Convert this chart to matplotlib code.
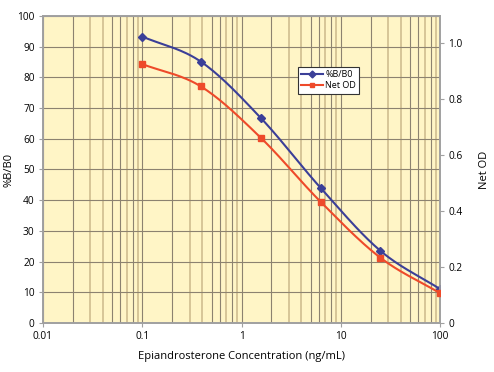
import matplotlib
matplotlib.use("Agg")
import matplotlib.pyplot as plt
from matplotlib.lines import Line2D
import numpy as np

# dilution series (ng/mL) and responses
conc = [0.1, 0.39, 1.56, 6.25, 25.0, 100.0]
pct_b_b0 = [93.3, 85.1, 66.8, 44.0, 23.5, 11.0]
net_od = [0.925, 0.845, 0.662, 0.433, 0.233, 0.106]

left_ticks = [0, 10, 20, 30, 40, 50, 60, 70, 80, 90, 100]
right_ticks = [0, 0.2, 0.4, 0.6, 0.8, 1.0]
right_labels = ["0", "0.2", "0.4", "0.6", "0.8", "1.0"]
x_ticks = [0.01, 0.1, 1, 10, 100]
x_labels = ["0.01", "0.1", "1", "10", "100"]

BLUE = "#3b3f98"
RED = "#ee4a2a"
BG = "#fff5c6"
DARK = "#8c8270"
LIGHT = "#d6c597"
SPINE = "#a0a0a0"

plt.rcParams.update({"font.family": ["Open Sans", "DejaVu Sans"], "font.size": 7})


def smooth(xs, ys, n=30):
    """Catmull-Rom curve through the points, in log-x space."""
    lx = np.log10(xs)
    ys = np.asarray(ys, float)
    px = np.concatenate([[2 * lx[0] - lx[1]], lx, [2 * lx[-1] - lx[-2]]])
    py = np.concatenate([[2 * ys[0] - ys[1]], ys, [2 * ys[-1] - ys[-2]]])
    outx, outy = [], []
    t = np.linspace(0, 1, n)
    for i in range(1, len(px) - 2):
        for p, out in ((px, outx), (py, outy)):
            p0, p1, p2, p3 = p[i - 1], p[i], p[i + 1], p[i + 2]
            out.extend(0.5 * (2 * p1 + (-p0 + p2) * t
                              + (2 * p0 - 5 * p1 + 4 * p2 - p3) * t ** 2
                              + (-p0 + 3 * p1 - 3 * p2 + p3) * t ** 3))
    return 10 ** np.array(outx), np.array(outy)


fig = plt.figure(figsize=(4.94, 3.72), dpi=100)
ax = fig.add_axes([0.087, 0.132, 0.804, 0.825])
ax.set_facecolor(BG)
ax.set_xscale("log")
ax.set_xlim(0.01, 100)
ax.set_ylim(0, 100)

# grid
for dec in (0.01, 0.1, 1, 10):
    for m in range(2, 10):
        c = DARK if m in (2, 5, 6, 8) else LIGHT
        lw = 0.8 if c == DARK else 1.4
        ax.axvline(dec * m, color=c, lw=lw, zorder=1)
    ax.axvline(dec, color=DARK, lw=0.8, zorder=1)
for v in left_ticks:
    ax.axhline(v, color=DARK, lw=0.8, zorder=1)

ax2 = ax.twinx()
ax2.set_ylim(0, 1.097)

sx, sy = smooth(conc, pct_b_b0)
ax.plot(sx, sy, color=BLUE, lw=1.5, zorder=3)
ax.plot(conc, pct_b_b0, "D", color=BLUE, ms=4, zorder=4)
rx, ry = smooth(conc, net_od)
ax2.plot(rx, ry, color=RED, lw=1.5, zorder=3)
ax2.plot(conc, net_od, "s", color=RED, ms=4, zorder=4)

ax.set_xticks(x_ticks)
ax.set_xticklabels(x_labels)
ax.xaxis.set_minor_locator(matplotlib.ticker.NullLocator())
ax.set_yticks(left_ticks)
ax2.set_yticks(right_ticks)
ax2.set_yticklabels(right_labels)
for a in (ax, ax2):
    a.tick_params(length=3, width=0.8, color=SPINE, pad=3, labelsize=7.3)
    for s in a.spines.values():
        s.set_color(SPINE)
        s.set_linewidth(1.2)

ax.set_xlabel("Epiandrosterone Concentration (ng/mL)", fontsize=8, labelpad=6)
ax.set_ylabel("%B/B0", fontsize=8, labelpad=2)
ax2.set_ylabel("Net OD", fontsize=8, labelpad=12)

handles = [Line2D([], [], color=BLUE, lw=1.5, marker="D", ms=3.5),
           Line2D([], [], color=RED, lw=1.5, marker="s", ms=3.5)]
leg = ax2.legend(handles, ["%B/B0", "Net OD"], loc="upper left",
                 bbox_to_anchor=(0.63, 0.85), fontsize=6.5, fancybox=False,
                 framealpha=1, edgecolor="#333333", handlelength=2.4,
                 handletextpad=0.3, borderpad=0.35, labelspacing=0.3)
leg.get_frame().set_linewidth(0.8)

fig.savefig("out.png", dpi=100)
